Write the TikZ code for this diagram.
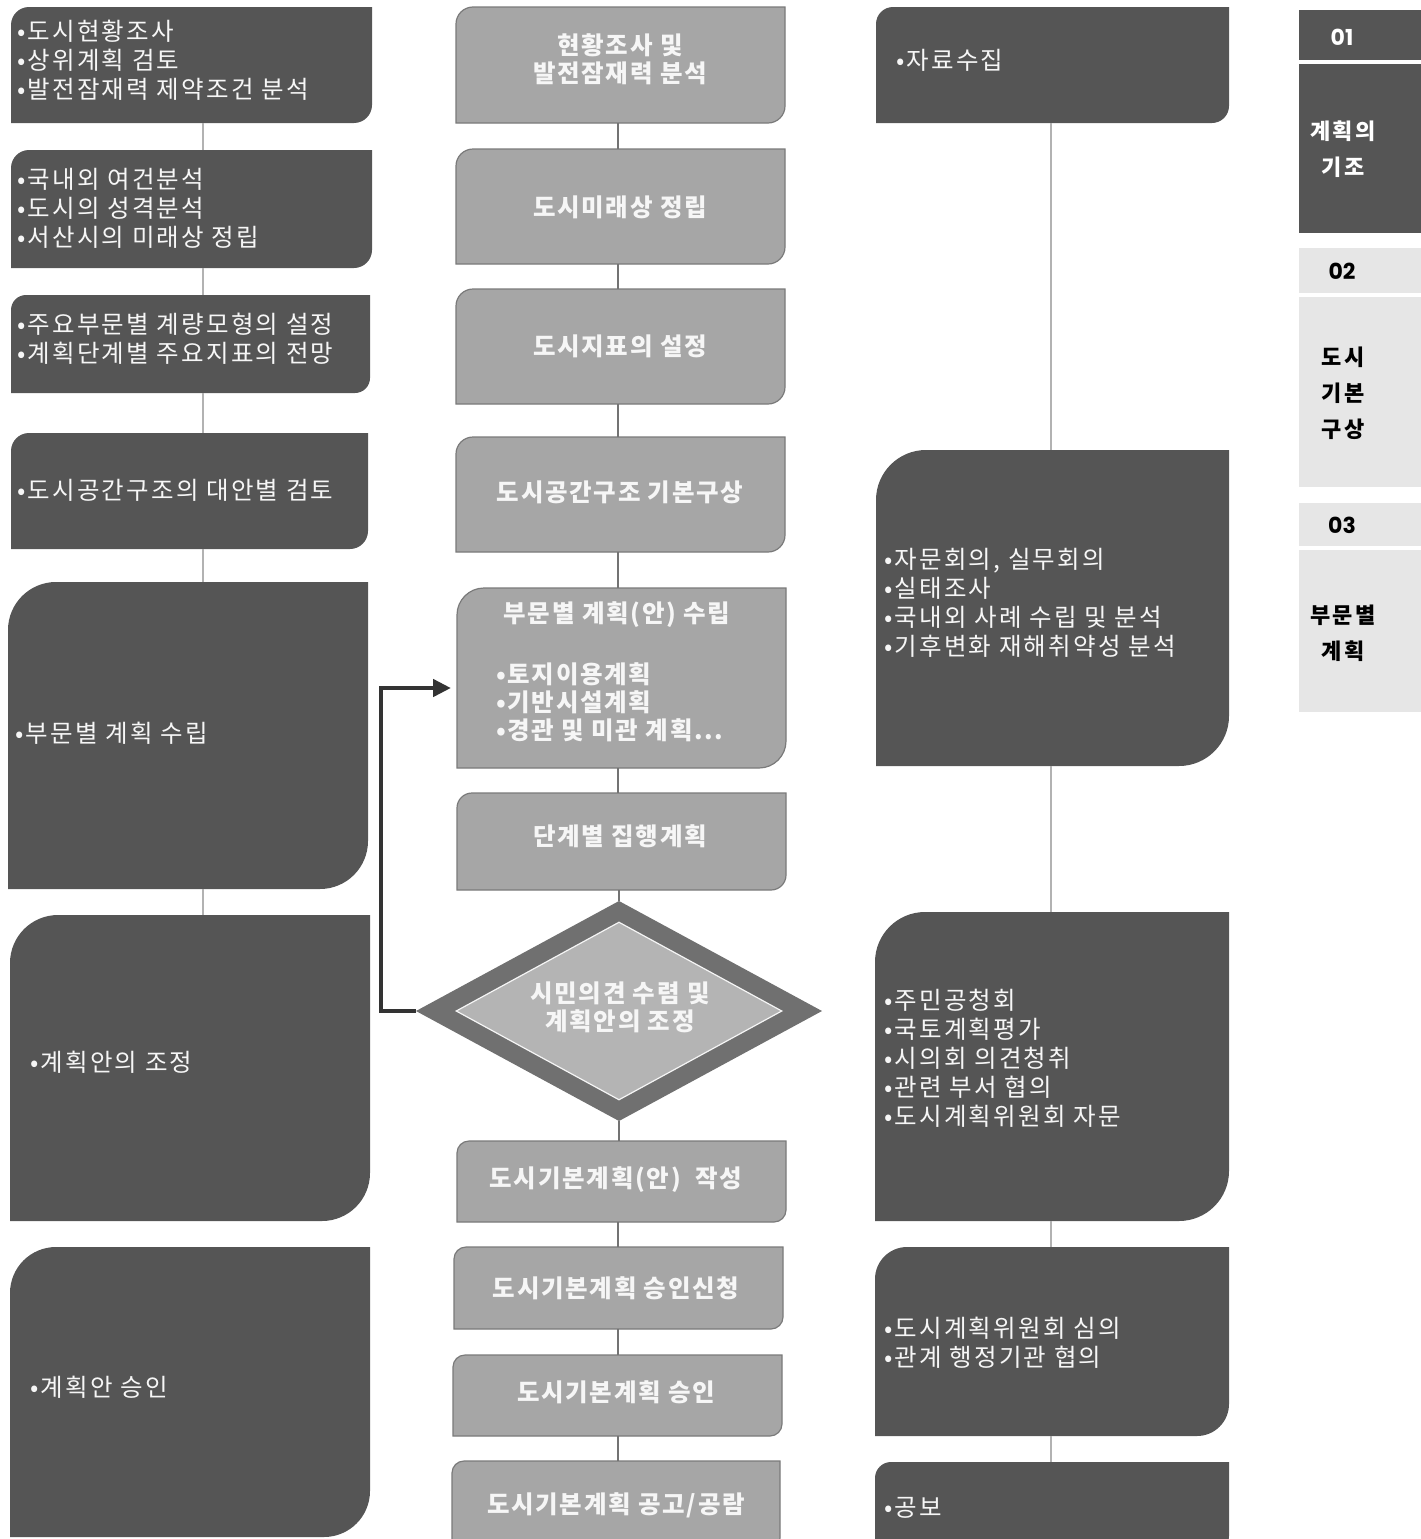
\documentclass[tikz,border=0pt]{standalone}
\usepackage{fontspec}
\setmainfont{Noto Sans CJK KR}
\newfontfamily\numfont{Poppins}
\usetikzlibrary{shapes.geometric,arrows.meta,calc}
\definecolor{dk}{HTML}{555555}
\definecolor{md}{HTML}{A6A6A6}
\definecolor{mdline}{HTML}{7A7A7A}
\definecolor{dmout}{HTML}{707070}
\definecolor{dmin}{HTML}{B4B4B4}
\definecolor{lt}{HTML}{E6E6E6}
\definecolor{arr}{HTML}{333333}
\definecolor{wt}{HTML}{F6F6F6}
\newcommand\dbox[7]{%
  \path[#7] (#2,#5) -- (#2,{#3+#6}) .. controls (#2,{#3+0.448*#6}) and ({#2+0.448*#6},#3) .. ({#2+#6},#3) -- (#4,#3) -- (#4,{#5-#6}) .. controls (#4,{#5-0.448*#6}) and ({#4-0.448*#6},#5) .. ({#4-#6},#5) -- cycle;
  \node[inner sep=0pt, outer sep=0pt, minimum width={(#4-#2)*1pt}, minimum height={(#5-#3)*1pt}, anchor=north west] (#1) at (#2,#3) {};
}
\newcommand\rbox[6]{%
  \node[inner sep=0pt, outer sep=0pt, minimum width={(#4-#2)*1pt}, minimum height={(#5-#3)*1pt}, anchor=north west, #6] (#1) at (#2,#3) {};
}
\begin{document}
\begin{tikzpicture}[x=1pt,y=-1pt,
  dkf/.style={fill=dk},
  mdf/.style={fill=md, draw=mdline, line width=1.2pt},
  ltxt/.style={text=wt, font=\fontsize{24.5}{29}\selectfont\addfontfeatures{LetterSpace=9}, align=left, anchor=west, inner sep=0pt},
  ctxt/.style={text=wt, font=\bfseries\fontsize{24.5}{28}\selectfont\addfontfeatures{LetterSpace=7}, align=center, inner sep=0pt},
  sidetxt/.style={font=\bfseries\fontsize{22}{36}\selectfont\addfontfeatures{LetterSpace=9}, align=center, inner sep=0pt},
  numtxt/.style={font=\numfont\bfseries\fontsize{22}{24}\selectfont, inner sep=0pt},
  lline/.style={draw=black!30, line width=1.6pt},
  cline/.style={draw=black!55, line width=1.4pt},
  rline/.style={draw=black!30, line width=1.6pt},
  fb/.style={draw=arr, line width=4.5pt, -{Triangle[length=18pt,width=17pt]}}
]
\useasboundingbox (0,0) rectangle (1421,1539);
\clip (0,0) rectangle (1421,1539);

% left column
\dbox{L1}{11}{7}{372}{123}{18}{dkf}
\dbox{L2}{11}{150}{372}{268}{18}{dkf}
\dbox{L3}{11}{295}{370}{393}{15}{dkf}
\dbox{L4}{11}{433}{368}{549}{18}{dkf}
\dbox{L5}{8}{582}{368}{889}{48}{dkf}
\dbox{L6}{10}{915}{370}{1221}{48}{dkf}
\dbox{L7}{10}{1247}{370}{1537}{46}{dkf}

% center column
\dbox{C1}{456}{7}{785}{123}{17}{mdf}
\dbox{C2}{456}{149}{785}{264}{17}{mdf}
\dbox{C3}{456}{289}{785}{404}{17}{mdf}
\dbox{C4}{456}{437}{785}{552}{17}{mdf}
\dbox{C5}{457}{588}{786}{768}{27}{mdf}
\dbox{C6}{457}{793}{786}{890}{15}{mdf}
\dbox{C7}{457}{1141}{786}{1222}{12}{mdf}
\dbox{C8}{454}{1247}{783}{1329}{12}{mdf}
\dbox{C9}{453}{1355}{782}{1436}{12}{mdf}
\dbox{C10}{452}{1461}{780}{1550}{12}{mdf}

% right column
\dbox{R1}{876}{7}{1229}{123}{17}{dkf}
\dbox{R2}{876}{450}{1229}{766}{50}{dkf}
\dbox{R3}{875}{912}{1229}{1221}{50}{dkf}
\dbox{R4}{875}{1247}{1229}{1436}{32}{dkf}
\dbox{R5}{875}{1462}{1229}{1552}{16}{dkf}

% diamond
\node[diamond, fill=dmout, minimum width=406pt, minimum height=220pt, inner sep=0pt, outer sep=0pt] (Dout) at (619,1011) {};
\node[diamond, fill=dmin, draw=white!92!gray, line width=1.2pt, minimum width=326pt, minimum height=178pt, inner sep=0pt] (Din) at (619,1011) {};

% connectors
\coordinate (lx) at (203,0);
\coordinate (cx) at (618,0);
\coordinate (rx) at (1051,0);
\foreach \a/\b in {L1/L2,L2/L3,L3/L4,L4/L5,L5/L6}
  \draw[lline] (\a.south -| lx) -- (\b.north -| lx);
\foreach \a/\b in {C1/C2,C2/C3,C3/C4,C4/C5,C5/C6,C7/C8,C8/C9,C9/C10}
  \draw[cline] (\a.south -| cx) -- (\b.north -| cx);
\draw[cline] (C6.south -| Dout.north) -- (Dout.north);
\draw[cline] (Dout.south) -- (C7.north -| Dout.south);
\foreach \a/\b in {R1/R2,R2/R3,R3/R4,R4/R5}
  \draw[rline] (\a.south -| rx) -- (\b.north -| rx);

% feedback arrow
\coordinate (abend) at (381,1011);
\coordinate (atip) at (451,688);
\draw[fb] (Dout.west) -- (abend) |- (atip);

% left texts
\node[ltxt] (L1t) at (17,60) {•도시현황조사\\•상위계획 검토\\•발전잠재력 제약조건 분석};
\node[ltxt] (L2t) at (17,208) {•국내외 여건분석\\•도시의 성격분석\\•서산시의 미래상 정립};
\node[ltxt] (L3t) at (17,339) {•주요부문별 계량모형의 설정\\•계획단계별 주요지표의 전망};
\node[ltxt] (L4t) at (17,490) {•도시공간구조의 대안별 검토};
\node[ltxt] (L5t) at (15,733) {•부문별 계획 수립};
\node[ltxt] (L6t) at (30,1062) {•계획안의 조정};
\node[ltxt] (L7t) at (30,1387) {•계획안 승인};

% center texts
\node[ctxt] (C1t) at (620,59) {현황조사 및\\발전잠재력 분석};
\node[ctxt] (C2t) at (620,207) {도시미래상 정립};
\node[ctxt] (C3t) at (620,346) {도시지표의 설정};
\node[ctxt] (C4t) at (620,492) {도시공간구조 기본구상};
\node[ctxt] (C5t) at (617,615) {부문별 계획(안) 수립};
\node[ctxt, align=left, anchor=west] (C5b) at (496,702) {•토지이용계획\\•기반시설계획\\•경관 및 미관 계획...};
\node[ctxt] (C6t) at (620,836) {단계별 집행계획};
\node[ctxt] (DT) at (620,1007) {시민의견 수렴 및\\계획안의 조정};
\node[ctxt] (C7t) at (616,1180) {도시기본계획(안)~ 작성};
\node[ctxt] (C8t) at (616,1288) {도시기본계획 승인신청};
\node[ctxt] (C9t) at (616,1392) {도시기본계획 승인};
\node[ctxt] (C10t) at (616,1505) {도시기본계획 공고/공람};

% right texts
\node[ltxt] (R1t) at (896,60) {•자료수집};
\node[ltxt] (R2t) at (884,603) {•자문회의, 실무회의\\•실태조사\\•국내외 사례 수립 및 분석\\•기후변화 재해취약성 분석};
\node[ltxt] (R3t) at (884,1058) {•주민공청회\\•국토계획평가\\•시의회 의견청취\\•관련 부서 협의\\•도시계획위원회 자문};
\node[ltxt] (R4t) at (884,1343) {•도시계획위원회 심의\\•관계 행정기관 협의};
\node[ltxt] (R5t) at (884,1508) {•공보};

% sidebar
\rbox{S1}{1299}{10}{1421}{60}{fill=dk}
\rbox{S1b}{1299}{64}{1421}{233}{fill=dk}
\rbox{S2}{1299}{248}{1421}{293}{fill=lt}
\rbox{S2b}{1299}{297}{1421}{487}{fill=lt}
\rbox{S3}{1299}{503}{1421}{546}{fill=lt}
\rbox{S3b}{1299}{550}{1421}{712}{fill=lt}
\node[numtxt, text=white] (S1t) at (1342,37) {01};
\node[sidetxt, text=white] (S1bt) at (1343,149) {계획의\\기조};
\node[numtxt] (S2t) at (1342,271) {02};
\node[sidetxt] (S2bt) at (1343,393) {도시\\기본\\구상};
\node[numtxt] (S3t) at (1342,525) {03};
\node[sidetxt] (S3bt) at (1343,633) {부문별\\계획};
\end{tikzpicture}
\end{document}
